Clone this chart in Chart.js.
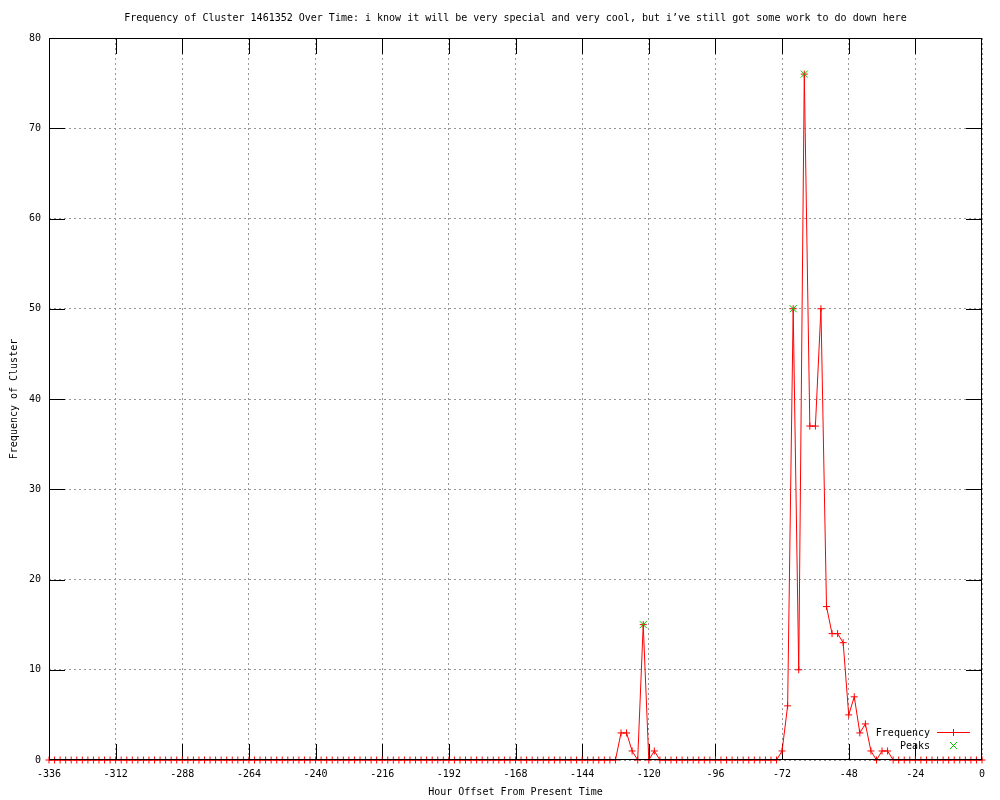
<!DOCTYPE html>
<html>
<head>
<meta charset="utf-8">
<script src="https://cdn.jsdelivr.net/npm/chart.js@4.4.1/dist/chart.umd.min.js"></script>
<style>
  html, body { margin: 0; padding: 0; background: #fff; }
  #wrap { width: 1000px; height: 800px; }
</style>
</head>
<body>
<div id="wrap"><canvas id="clusterChart" width="1000" height="800"></canvas></div>
<script>
// data: one value every 2 hours, -336 .. 0
const hours = [
  -336, -334, -332, -330, -328, -326, -324, -322, -320, -318, -316, -314,
  -312, -310, -308, -306, -304, -302, -300, -298, -296, -294, -292, -290,
  -288, -286, -284, -282, -280, -278, -276, -274, -272, -270, -268, -266,
  -264, -262, -260, -258, -256, -254, -252, -250, -248, -246, -244, -242,
  -240, -238, -236, -234, -232, -230, -228, -226, -224, -222, -220, -218,
  -216, -214, -212, -210, -208, -206, -204, -202, -200, -198, -196, -194,
  -192, -190, -188, -186, -184, -182, -180, -178, -176, -174, -172, -170,
  -168, -166, -164, -162, -160, -158, -156, -154, -152, -150, -148, -146,
  -144, -142, -140, -138, -136, -134, -132, -130, -128, -126, -124, -122,
  -120, -118, -116, -114, -112, -110, -108, -106, -104, -102, -100, -98,
  -96, -94, -92, -90, -88, -86, -84, -82, -80, -78, -76, -74,
  -72, -70, -68, -66, -64, -62, -60, -58, -56, -54, -52, -50,
  -48, -46, -44, -42, -40, -38, -36, -34, -32, -30, -28, -26,
  -24, -22, -20, -18, -16, -14, -12, -10, -8, -6, -4, -2,
  0
];
const frequency = [
  0, 0, 0, 0, 0, 0, 0, 0, 0, 0, 0, 0,
  0, 0, 0, 0, 0, 0, 0, 0, 0, 0, 0, 0,
  0, 0, 0, 0, 0, 0, 0, 0, 0, 0, 0, 0,
  0, 0, 0, 0, 0, 0, 0, 0, 0, 0, 0, 0,
  0, 0, 0, 0, 0, 0, 0, 0, 0, 0, 0, 0,
  0, 0, 0, 0, 0, 0, 0, 0, 0, 0, 0, 0,
  0, 0, 0, 0, 0, 0, 0, 0, 0, 0, 0, 0,
  0, 0, 0, 0, 0, 0, 0, 0, 0, 0, 0, 0,
  0, 0, 0, 0, 0, 0, 0, 3, 3, 1, 0, 15,
  0, 1, 0, 0, 0, 0, 0, 0, 0, 0, 0, 0,
  0, 0, 0, 0, 0, 0, 0, 0, 0, 0, 0, 0,
  1, 6, 50, 10, 76, 37, 37, 50, 17, 14, 14, 13,
  5, 7, 3, 4, 1, 0, 1, 1, 0, 0, 0, 0,
  0, 0, 0, 0, 0, 0, 0, 0, 0, 0, 0, 0,
  0
];
const peakHours = [-122, -68, -64];
const peakValues = [15, 50, 76];

const titleText = "Frequency of Cluster 1461352 Over Time: i know it will be very special and very cool, but i\u2019ve still got some work to do down here";
const xTicks = [-336, -312, -288, -264, -240, -216, -192, -168, -144, -120, -96, -72, -48, -24, 0];
const yTicks = [0, 10, 20, 30, 40, 50, 60, 70, 80];

const FONT = "'DejaVu Sans Mono', 'Liberation Mono', monospace";
const RED = '#ff0000';
const GREEN = '#00c000';

// gnuplot look: inward ticks, border box, title, legend inside
const gnuplotFrame = {
  id: 'gnuplotFrame',
  beforeDatasetsDraw(chart) {
    const { ctx, chartArea: a, scales } = chart;
    const tl = 16;
    ctx.save();
    ctx.strokeStyle = '#000';
    ctx.lineWidth = 1;
    ctx.beginPath();
    xTicks.forEach(v => {
      const x = Math.min(Math.round(scales.x.getPixelForValue(v)), a.right - 1) + 0.5;
      ctx.moveTo(x, a.bottom); ctx.lineTo(x, a.bottom - tl);
      ctx.moveTo(x, a.top); ctx.lineTo(x, a.top + tl);
    });
    yTicks.forEach(v => {
      const y = Math.min(Math.round(scales.y.getPixelForValue(v)), a.bottom - 1) + 0.5;
      ctx.moveTo(a.left, y); ctx.lineTo(a.left + tl, y);
      ctx.moveTo(a.right, y); ctx.lineTo(a.right - tl, y);
    });
    ctx.stroke();
    ctx.restore();
  },
  afterDatasetsDraw(chart) {
    const { ctx, chartArea: a } = chart;
    ctx.save();
    ctx.strokeStyle = '#000';
    ctx.lineWidth = 1;
    ctx.strokeRect(a.left + 0.5, a.top + 0.5, a.right - a.left - 1, a.bottom - a.top - 1);
    ctx.restore();
  },
  afterDraw(chart) {
    const { ctx, chartArea: a } = chart;
    ctx.save();
    // title
    ctx.fillStyle = '#000';
    ctx.font = '10px ' + FONT;
    ctx.textAlign = 'center';
    ctx.textBaseline = 'middle';
    ctx.fillText(titleText, (a.left + a.right) / 2, 18);

    // legend
    ctx.textAlign = 'right';
    const rows = [
      { label: 'Frequency', y: 733 },
      { label: 'Peaks', y: 746 }
    ];
    rows.forEach(r => ctx.fillText(r.label, 930, r.y));
    ctx.strokeStyle = RED;
    ctx.lineWidth = 1;
    ctx.beginPath();
    ctx.moveTo(937, 732.5); ctx.lineTo(970, 732.5);
    ctx.moveTo(953.5, 729); ctx.lineTo(953.5, 736);
    ctx.stroke();
    ctx.strokeStyle = GREEN;
    ctx.beginPath();
    ctx.moveTo(950, 742); ctx.lineTo(957, 749);
    ctx.moveTo(957, 742); ctx.lineTo(950, 749);
    ctx.stroke();
    ctx.restore();
  }
};

const ctx = document.getElementById('clusterChart').getContext('2d');

new Chart(ctx, {
  type: 'line',
  data: {
    datasets: [
      {
        label: 'Peaks',
        data: peakHours.map((h, i) => ({ x: h, y: peakValues[i] })),
        showLine: false,
        pointStyle: 'crossRot',
        pointRadius: 5,
        pointBorderColor: GREEN,
        pointBorderWidth: 1,
        clip: false,
        order: 0
      },
      {
        label: 'Frequency',
        data: hours.map((h, i) => ({ x: h, y: frequency[i] })),
        borderColor: RED,
        borderWidth: 1,
        tension: 0,
        pointStyle: 'cross',
        pointRadius: 3.5,
        pointBorderColor: RED,
        pointBorderWidth: 1,
        fill: false,
        clip: false,
        order: 1
      }
    ]
  },
  options: {
    responsive: false,
    animation: false,
    devicePixelRatio: 1,
    layout: { padding: { top: 38, right: 18, bottom: 0, left: 0 } },
    plugins: {
      legend: { display: false },
      title: { display: false },
      tooltip: { enabled: false }
    },
    elements: { point: { hoverRadius: 3.5 } },
    scales: {
      x: {
        type: 'linear',
        min: -336,
        max: 0,
        afterBuildTicks(scale) {
          scale.ticks = xTicks.map(v => ({ value: v }));
        },
        afterFit(scale) { scale.height = 40; },
        grid: {
          color: '#969696',
          lineWidth: 1,
          drawTicks: false
        },
        border: { display: false, dash: [2, 3] },
        ticks: {
          color: '#000',
          padding: 8,
          maxRotation: 0,
          autoSkip: false,
          font: { family: FONT, size: 10 }
        },
        title: {
          display: true,
          text: 'Hour Offset From Present Time',
          color: '#000',
          padding: { top: 0, bottom: 2 },
          font: { family: FONT, size: 10 }
        }
      },
      y: {
        min: 0,
        max: 80,
        afterBuildTicks(scale) {
          scale.ticks = yTicks.map(v => ({ value: v }));
        },
        afterFit(scale) { scale.width = 49; },
        grid: {
          color: '#969696',
          lineWidth: 1,
          drawTicks: false
        },
        border: { display: false, dash: [2, 3] },
        ticks: {
          color: '#000',
          padding: 8,
          font: { family: FONT, size: 10 }
        },
        title: {
          display: true,
          text: 'Frequency of Cluster',
          color: '#000',
          padding: { top: 8, bottom: 0 },
          font: { family: FONT, size: 10 }
        }
      }
    }
  },
  plugins: [gnuplotFrame]
});
</script>
</body>
</html>
